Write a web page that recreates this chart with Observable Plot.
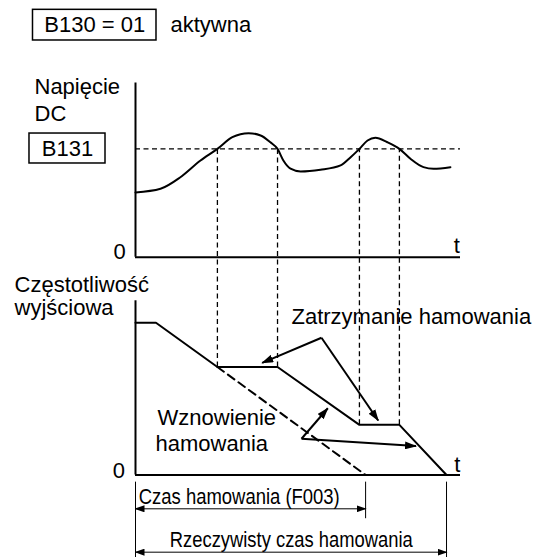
<!DOCTYPE html>
<html>
<head>
<meta charset="utf-8">
<script src="https://cdn.jsdelivr.net/npm/d3@7"></script>
<script src="https://cdn.jsdelivr.net/npm/@observablehq/plot@0.6"></script>
<style>
  body { margin: 0; background: #fff; }
  svg { display: block; }
</style>
</head>
<body>
<div id="chart"></div>
<script>
// ---------- DATA (time in arbitrary units, values in % of panel height) ----------
// DC bus voltage (top panel)
const voltageT = [0, 0.77, 1.38, 2.0, 2.52, 2.98, 3.48, 3.85, 4.15, 4.37, 4.55, 4.77, 5.08, 5.69, 6.31, 6.62, 6.89, 7.14, 7.38, 7.75, 8.12, 8.46, 8.86, 9.17, 9.69];
const voltageV = [37.2, 39.3, 45.9, 55.5, 62.2, 68.9, 71.2, 69.9, 66.0, 62.2, 55.5, 50.8, 49.2, 50.2, 52.7, 57.4, 62.2, 67.0, 68.6, 66.0, 62.2, 56.5, 51.7, 50.8, 51.7];
const thresholdB131 = 62.2;

// Output frequency (bottom panel)
const freqT = [0, 0.63, 2.52, 4.37, 6.89, 8.12, 9.57];
const freqF = [87.4, 87.4, 62, 62, 28.8, 28.8, 0];

// Times where the voltage crosses B131 (decel stop / resume)
const crossingT = [2.52, 4.37, 6.89, 8.12];

// Programmed deceleration (F003) continuation
const programmedT = [2.52, 7.08];
const programmedF = [62, 0];

const tMax = 10;

// ---------- LAYOUT (annotation placement, in the same t / value units) ----------
const panelOffset = 125;   // top panel baseline sits above the bottom one
const panelTop = 100;

const startLabels = [
  {text: "aktywna", t: 1.077, u: 258.2},
  {text: "Napięcie", t: -3.108, u: 223.0},
  {text: "DC", t: -3.108, u: 207.5},
  {text: "Częstotliwość", t: -3.723, u: 108.9},
  {text: "wyjściowa", t: -3.723, u: 95.6},
  {text: "Zatrzymanie hamowania", t: 4.8, u: 90.8},
  {text: "Wznowienie", t: 0.677, u: 33.0},
  {text: "hamowania", t: 0.615, u: 18.1}
];
const middleLabels = [
  {text: "B130 = 01", t: -1.252, u: 258.2},
  {text: "B131", t: -2.092, u: 187.4},
  {text: "0", t: -0.492, u: 128.3},
  {text: "t", t: 9.89, u: 131.2},
  {text: "0", t: -0.508, u: 2.6},
  {text: "t", t: 9.9, u: 5.6}
];
const boxes = [
  {t1: -3.154, t2: 0.646, u1: 249.4, u2: 267.0},
  {t1: -3.262, t2: -0.923, u1: 178.8, u2: 196.0}
];
const pointerArrows = [
  {t1: 5.723, u1: 78.8, t2: 3.898, u2: 64.4},
  {t1: 5.723, u1: 78.8, t2: 7.468, u2: 31.3},
  {t1: 5.108, u1: 20.8, t2: 5.917, u2: 38.3},
  {t1: 5.108, u1: 20.8, t2: 8.631, u2: 16.6}
];
const decelEnd = programmedT[programmedT.length - 1];
const stopT = freqT[freqT.length - 1];
const dimTicks = [
  {t: 0, u1: -4.1, u2: -47.4},
  {t: decelEnd, u1: -4.1, u2: -25.1},
  {t: stopT, u1: -4.1, u2: -47.4}
];
const dimArrows = [
  {t1: 0, t2: decelEnd, u: -19.4},
  {t1: 0, t2: stopT, u: -44.3}
];
const dimLabels = [
  {text: "Czas hamowania (F003)", t: 0.1, u: -12.5, width: 201},
  {text: "Rzeczywisty czas hamowania", t: 1.055, u: -37.0, width: 243}
];

// ---------- build tables ----------
const voltage = voltageT.map((t, i) => ({t, v: voltageV[i]}));
const freq = freqT.map((t, i) => ({t, f: freqF[i]}));
const programmed = programmedT.map((t, i) => ({t, f: programmedF[i]}));
const freqAt = t => freq.find(d => d.t === t).f;
const crossings = crossingT.map(t => ({t, f: freqAt(t)}));

const font = "Liberation Sans, Arial, Helvetica, sans-serif";

const svg = Plot.plot({
  width: 537,
  height: 557,
  marginLeft: 135,
  marginRight: 77,
  marginTop: 82.5,
  marginBottom: 82.5,
  x: {domain: [0, tMax], axis: null},
  y: {domain: [0, panelOffset + panelTop], axis: null},
  marks: [
    // threshold B131
    Plot.ruleY([panelOffset + thresholdB131], {x1: 0, x2: tMax, stroke: "black", strokeWidth: 1.3, strokeDasharray: "5,3.5"}),
    // vertical projections
    Plot.ruleX(crossings, {x: "t", y1: "f", y2: panelOffset + thresholdB131, stroke: "black", strokeWidth: 1.3, strokeDasharray: "5,3.5"}),
    // programmed decel continuation
    Plot.line(programmed, {x: "t", y: "f", stroke: "black", strokeWidth: 2, strokeDasharray: "8,5"}),
    // axes
    Plot.ruleX([0], {y1: panelOffset, y2: panelOffset + panelTop, stroke: "black", strokeWidth: 2}),
    Plot.ruleY([panelOffset], {x1: 0, x2: tMax, stroke: "black", strokeWidth: 2}),
    Plot.ruleX([0], {y1: 0, y2: panelTop, stroke: "black", strokeWidth: 2}),
    Plot.ruleY([0], {x1: 0, x2: tMax, stroke: "black", strokeWidth: 2}),
    // data
    Plot.line(voltage, {x: "t", y: d => panelOffset + d.v, curve: "monotone-x", stroke: "black", strokeWidth: 2}),
    Plot.line(freq, {x: "t", y: "f", stroke: "black", strokeWidth: 2}),
    // pointer arrows
    Plot.link(pointerArrows, {x1: "t1", y1: "u1", x2: "t2", y2: "u2", stroke: "black", strokeWidth: 2, ariaDescription: "pointer-arrows"}),
    // dimension lines
    Plot.ruleX(dimTicks, {x: "t", y1: "u1", y2: "u2", stroke: "black", strokeWidth: 1}),
    Plot.link(dimArrows, {x1: "t1", x2: "t2", y1: "u", y2: "u", stroke: "black", strokeWidth: 1, ariaDescription: "dim-arrows"}),
    // boxes
    Plot.rect(boxes, {x1: "t1", x2: "t2", y1: "u1", y2: "u2", fill: "none", stroke: "black", strokeWidth: 1.5}),
    // texts
    Plot.text(startLabels, {x: "t", y: "u", text: "text", textAnchor: "start", fontSize: 22, fontFamily: font, fill: "black"}),
    Plot.text(middleLabels, {x: "t", y: "u", text: "text", textAnchor: "middle", fontSize: 22, fontFamily: font, fill: "black"}),
    Plot.text(dimLabels, {x: "t", y: "u", text: "text", textAnchor: "start", fontSize: 22, fontFamily: font, fill: "black", ariaDescription: "dim-labels"})
  ]
});

// filled arrowheads
const s = d3.select(svg);
const defs = s.append("defs");
function marker(id, w, h) {
  defs.append("marker")
    .attr("id", id)
    .attr("viewBox", `0 0 ${w} ${h}`)
    .attr("refX", w - 1)
    .attr("refY", h / 2)
    .attr("markerUnits", "userSpaceOnUse")
    .attr("markerWidth", w)
    .attr("markerHeight", h)
    .attr("orient", "auto-start-reverse")
    .append("path")
    .attr("d", `M0,0L${w},${h / 2}L0,${h}Z`)
    .attr("fill", "black");
}
marker("headBig", 12, 8);
marker("headSmall", 10, 7);
s.selectAll('g[aria-description="pointer-arrows"] path, g[aria-description="pointer-arrows"] line')
  .attr("marker-end", "url(#headBig)");
s.selectAll('g[aria-description="dim-arrows"] path, g[aria-description="dim-arrows"] line')
  .attr("marker-start", "url(#headSmall)")
  .attr("marker-end", "url(#headSmall)");
s.selectAll('g[aria-description="dim-labels"] text')
  .attr("textLength", (d, j) => dimLabels[j].width)
  .attr("lengthAdjust", "spacingAndGlyphs");

document.getElementById("chart").appendChild(svg);
</script>
</body>
</html>
